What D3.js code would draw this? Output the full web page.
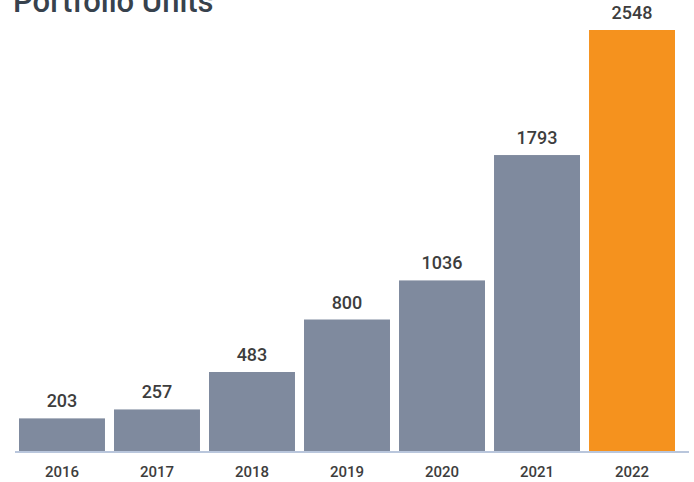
<!DOCTYPE html>
<html>
<head>
<meta charset="utf-8">
<script src="https://cdn.jsdelivr.net/npm/d3@7"></script>
<style>
  body { margin: 0; background: #fff; }
  svg { display: block; }
</style>
</head>
<body>
<svg id="chart" width="694" height="482"></svg>
<script>
let years = ["2016", "2017", "2018", "2019", "2020", "2021", "2022"];
let units = [203, 257, 483, 800, 1036, 1793, 2548];
let highlightYear = "2022";

let svg = d3.select("#chart");

let x = d3.scaleBand().domain(years).range([19, 675]).paddingInner(0.095).paddingOuter(0);
let y = d3.scaleLinear().domain([0, 2548]).range([452, 30]);

let data = years.map((d, i) => ({ year: d, value: units[i] }));

// title (cut off at the top in the original)
svg.append("text")
    .attr("x", 13)
    .attr("y", 12)
    .style("font-family", "Roboto")
    .style("font-weight", 500)
    .style("font-size", "31px")
    .style("fill", "#37424d")
    .text("Portfolio Units");

svg.append("g")
    .selectAll("rect")
    .data(data)
    .enter()
    .append("rect")
    .attr("x", d => x(d.year))
    .attr("y", d => y(d.value))
    .attr("width", x.bandwidth())
    .attr("height", d => y(0) - y(d.value))
    .style("fill", d => d.year == highlightYear ? "#f5921e" : "#7f8a9e");

svg.append("g")
    .selectAll("text")
    .data(data)
    .enter()
    .append("text")
    .attr("x", d => x(d.year) + x.bandwidth() / 2)
    .attr("y", d => y(d.value) - 11)
    .attr("text-anchor", "middle")
    .style("font-family", "Roboto")
    .style("font-weight", 500)
    .style("font-size", "18px")
    .style("fill", "#3d3d3d")
    .text(d => d.value);

// baseline
svg.append("line")
    .attr("x1", 15)
    .attr("x2", 689)
    .attr("y1", y(0))
    .attr("y2", y(0))
    .style("stroke", "#b9c6dc")
    .style("stroke-width", 2);

let xAxis = svg.append("g")
    .attr("transform", "translate(0," + y(0) + ")")
    .call(d3.axisBottom(x).tickSize(0).tickPadding(14));

xAxis.select(".domain").remove();
xAxis.selectAll("text")
    .style("font-family", "Roboto")
    .style("font-weight", 500)
    .style("font-size", "15px")
    .style("fill", "#3d3d3d");
</script>
</body>
</html>
